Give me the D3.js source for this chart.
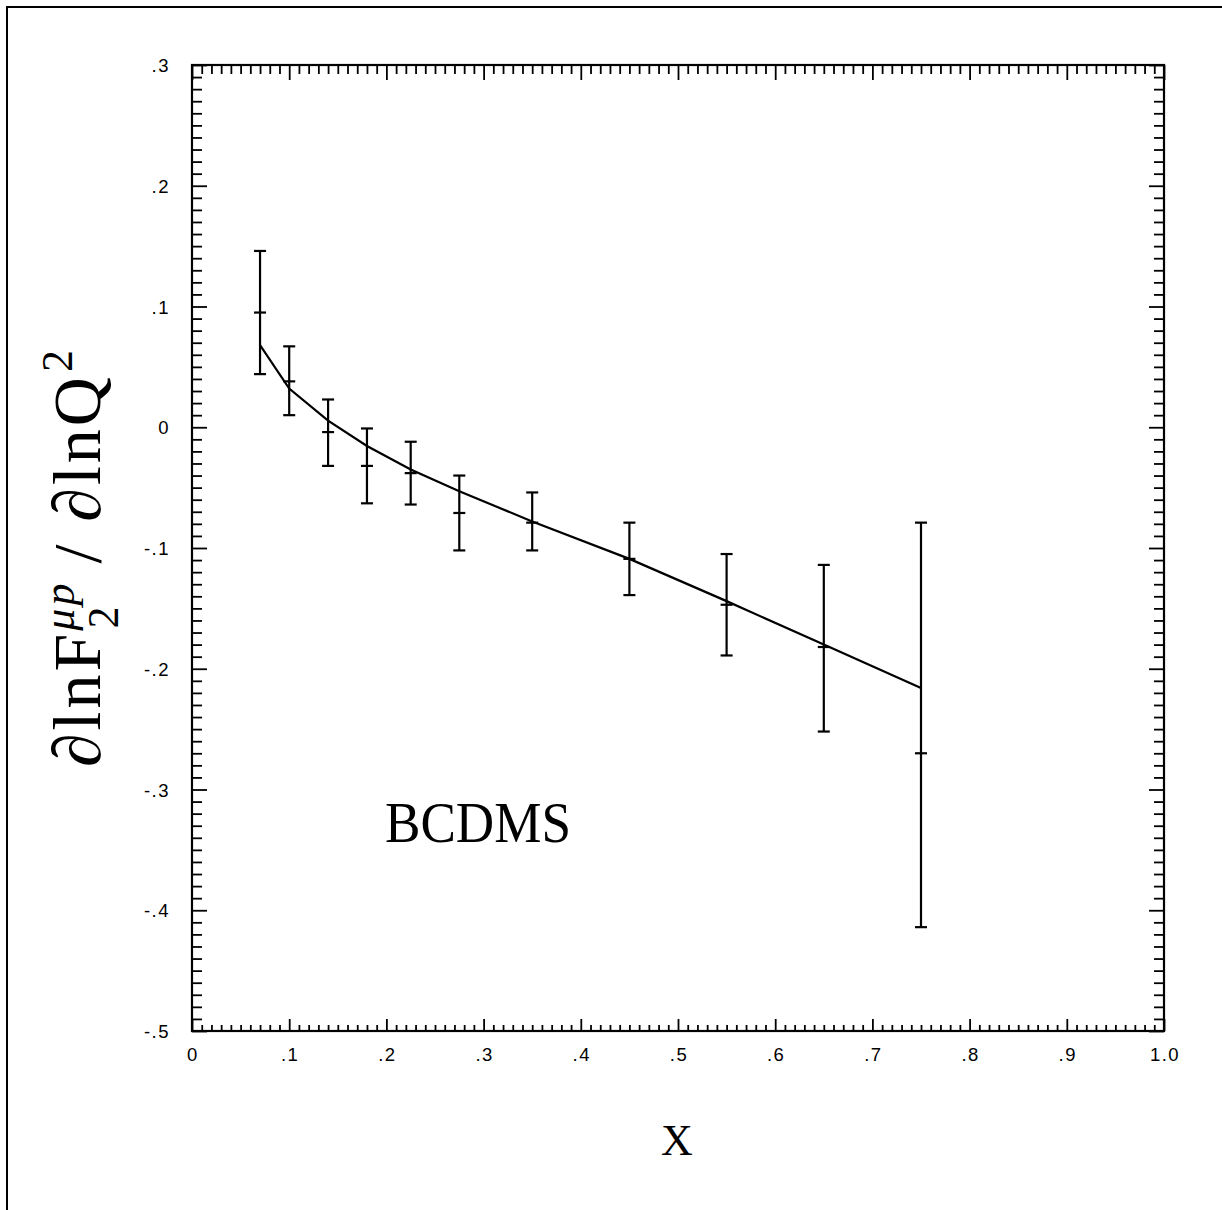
<!DOCTYPE html>
<html>
<head>
<meta charset="utf-8">
<script src="https://cdn.jsdelivr.net/npm/d3@7"></script>
<style>
  html, body { margin: 0; padding: 0; background: #fff; }
  svg { display: block; }
</style>
</head>
<body>
<svg id="chart" width="1222" height="1210"></svg>
<script>
// ---- data ----
const xValues   = [0.07, 0.10, 0.14, 0.18, 0.225, 0.275, 0.35, 0.45, 0.55, 0.65, 0.75];
const yValues   = [0.095, 0.038, -0.004, -0.032, -0.038, -0.071, -0.079, -0.109, -0.147, -0.182, -0.270];
const yErrHigh  = [0.146, 0.067, 0.023, -0.001, -0.012, -0.040, -0.054, -0.079, -0.105, -0.114, -0.079];
const yErrLow   = [0.044, 0.010, -0.032, -0.063, -0.064, -0.102, -0.102, -0.139, -0.189, -0.252, -0.414];
const curveY    = [0.068, 0.032, 0.0055, -0.0155, -0.035, -0.053, -0.078, -0.109, -0.144, -0.180, -0.216];
const xTickVals   = [0, 0.1, 0.2, 0.3, 0.4, 0.5, 0.6, 0.7, 0.8, 0.9, 1.0];
const xTickLabels = ["0", ".1", ".2", ".3", ".4", ".5", ".6", ".7", ".8", ".9", "1.0"];
const yTickVals   = [0.3, 0.2, 0.1, 0, -0.1, -0.2, -0.3, -0.4, -0.5];
const yTickLabels = [".3", ".2", ".1", "0", "-.1", "-.2", "-.3", "-.4", "-.5"];

// ---- layout ----
const svg = d3.select("#chart");
const L = 192, R = 1164, T = 65, B = 1031;
const x = d3.scaleLinear().domain([0, 1]).range([L, R]);
const y = d3.scaleLinear().domain([-0.5, 0.3]).range([B, T]);
const ink = "#000";

// outer page frame (left + top)
svg.append("path")
  .attr("d", "M7,1210 L7,7 L1222,7")
  .attr("fill", "none").attr("stroke", ink).attr("stroke-width", 2);

// plot frame
svg.append("rect")
  .attr("x", L).attr("y", T).attr("width", R - L).attr("height", B - T)
  .attr("fill", "none").attr("stroke", ink).attr("stroke-width", 2.2);

// minor / major ticks (inward)
const xMinor = d3.range(0, 101).map(i => i / 100);
const yMinor = d3.range(-50, 31).map(i => i / 100);
const isMajor = v => Math.abs(Math.round(v * 10) - v * 10) < 1e-6;

const axTop = d3.axisBottom(x).tickValues(xMinor.filter(v => !isMajor(v))).tickSize(9).tickFormat("");
const axTopMaj = d3.axisBottom(x).tickValues(xTickVals).tickSize(15).tickFormat("");
const axBot = d3.axisTop(x).tickValues(xMinor.filter(v => !isMajor(v))).tickSize(6).tickFormat("");
const axBotMaj = d3.axisTop(x).tickValues(xTickVals).tickSize(12).tickFormat("");
const axLeft = d3.axisRight(y).tickValues(yMinor.filter(v => !isMajor(v))).tickSize(10).tickFormat("");
const axLeftMaj = d3.axisRight(y).tickValues(yTickVals).tickSize(15).tickFormat("");
const axRight = d3.axisLeft(y).tickValues(yMinor.filter(v => !isMajor(v))).tickSize(10).tickFormat("");
const axRightMaj = d3.axisLeft(y).tickValues(yTickVals).tickSize(15).tickFormat("");

function drawAxis(ax, tx, ty) {
  const g = svg.append("g").attr("transform", `translate(${tx},${ty})`).call(ax);
  g.select(".domain").remove();
  g.selectAll("line").attr("stroke", ink).attr("stroke-width", 1.8);
}
drawAxis(axTop, 0, T); drawAxis(axTopMaj, 0, T);
drawAxis(axBot, 0, B); drawAxis(axBotMaj, 0, B);
drawAxis(axLeft, L, 0); drawAxis(axLeftMaj, L, 0);
drawAxis(axRight, R, 0); drawAxis(axRightMaj, R, 0);

// tick labels
const labelFont = "'Liberation Sans', Arial, sans-serif";
svg.append("g").selectAll("text").data(xTickVals).join("text")
  .attr("x", d => x(d) + 1).attr("y", B + 30)
  .attr("text-anchor", "middle")
  .attr("font-family", labelFont).attr("font-size", 18.5)
  .attr("letter-spacing", 1.5)
  .text((d, i) => xTickLabels[i]);
svg.append("g").selectAll("text").data(yTickVals).join("text")
  .attr("x", L - 22).attr("y", d => y(d) + 7)
  .attr("text-anchor", "end")
  .attr("font-family", labelFont).attr("font-size", 18.5)
  .attr("letter-spacing", 1.5)
  .text((d, i) => yTickLabels[i]);

// data
const pts = xValues.map((xv, i) => ({x: xv, y: yValues[i], hi: yErrHigh[i], lo: yErrLow[i], c: curveY[i]}));

// fitted curve
svg.append("path")
  .datum(pts)
  .attr("d", d3.line().x(d => x(d.x)).y(d => y(d.c)))
  .attr("fill", "none").attr("stroke", ink).attr("stroke-width", 2.2);

// error bars
const cap = 6;
const eg = svg.append("g").attr("stroke", ink).attr("stroke-width", 2.2).attr("fill", "none");
eg.selectAll("line.v").data(pts).join("line")
  .attr("x1", d => x(d.x)).attr("x2", d => x(d.x))
  .attr("y1", d => y(d.hi)).attr("y2", d => y(d.lo));
eg.selectAll("line.hi").data(pts).join("line")
  .attr("x1", d => x(d.x) - cap).attr("x2", d => x(d.x) + cap)
  .attr("y1", d => y(d.hi)).attr("y2", d => y(d.hi));
eg.selectAll("line.lo").data(pts).join("line")
  .attr("x1", d => x(d.x) - cap).attr("x2", d => x(d.x) + cap)
  .attr("y1", d => y(d.lo)).attr("y2", d => y(d.lo));
eg.selectAll("line.c").data(pts).join("line")
  .attr("x1", d => x(d.x) - cap).attr("x2", d => x(d.x) + cap)
  .attr("y1", d => y(d.y)).attr("y2", d => y(d.y));

// texts
const serif = "'Liberation Serif', 'DejaVu Serif', serif";
svg.append("text")
  .attr("x", 385).attr("y", 842)
  .attr("font-family", serif).attr("font-size", 56)
  .attr("textLength", 186).attr("lengthAdjust", "spacingAndGlyphs")
  .text("BCDMS");

svg.append("text")
  .attr("x", 677).attr("y", 1155)
  .attr("text-anchor", "middle")
  .attr("font-family", serif).attr("font-size", 44)
  .text("X");

// y-axis label (rotated)
const yl = svg.append("text")
  .attr("transform", "translate(100,767) rotate(-90)")
  .attr("font-family", serif).attr("font-size", 68)
  .attr("letter-spacing", 3);
yl.append("tspan").text("\u2202lnF");
yl.append("tspan").attr("font-size", 44).attr("font-style", "italic").attr("dy", -26).attr("dx", 0).text("\u03bcp");
yl.append("tspan").attr("font-size", 44).attr("dy", 44).attr("dx", -48).text("2");
yl.append("tspan").attr("dy", -18).attr("dx", 40).text("/");
yl.append("tspan").attr("dx", 20).text("\u2202lnQ");
yl.append("tspan").attr("font-size", 44).attr("dy", -28).attr("dx", 2).text("2");
</script>
</body>
</html>
